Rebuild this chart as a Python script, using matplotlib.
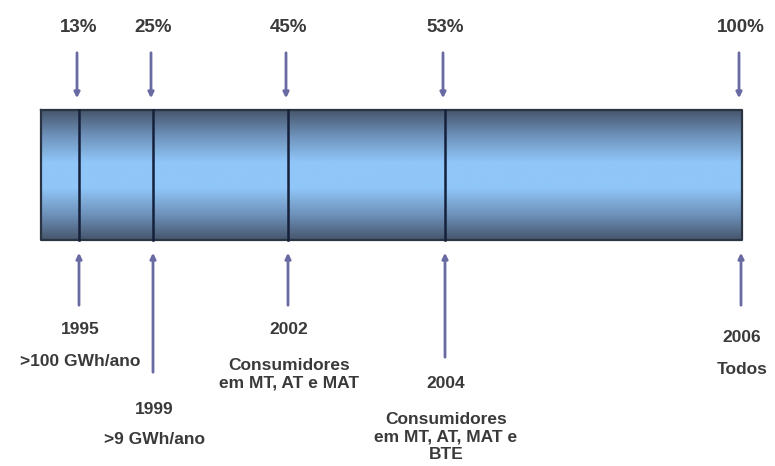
import numpy as np
import matplotlib.pyplot as plt
from matplotlib.colors import LinearSegmentedColormap

# market opening timeline
years = ['1995', '1999', '2002', '2004', '2006']
shares = ['13%', '25%', '45%', '53%', '100%']
eligible = ['>100 GWh/ano', '>9 GWh/ano', 'Consumidores\nem MT, AT e MAT',
            'Consumidores\nem MT, AT, MAT e\nBTE', 'Todos']

# layout (pixel coordinates of the slide)
xpos = [79, 153, 288, 445, 741]
bottom_len = [308, 375, 308, 360, 308]
year_y = [330, 410, 330, 383, 337]
label_y = [362, 440, 374, 437, 369]
text_col = '#3a3a3a'
arrow_col = '#6a6aa2'

plt.rcParams['font.family'] = ['Liberation Sans', 'DejaVu Sans']

fig = plt.figure(figsize=(7.75, 4.66), dpi=100)
ax = fig.add_axes([0, 0, 1, 1])
ax.set_xlim(0, 775)
ax.set_ylim(466, 0)
ax.axis('off')

# gradient bar
x0, x1, y0, y1 = 41, 742, 110, 240
cmap = LinearSegmentedColormap.from_list('bar', ['#46566c', '#6f93bc', '#90c6f8', '#90c6f8', '#6f93bc', '#46566c'])
grad = np.linspace(0, 1, 256).reshape(-1, 1)
ax.imshow(grad, cmap=cmap, extent=[x0, x1, y1, y0], aspect='auto', zorder=1)
ax.plot([x0, x1, x1, x0, x0], [y0, y0, y1, y1, y0], color='#2a3442', lw=1.6, zorder=2)
for x in xpos[:-1]:
    ax.plot([x, x], [y0, y1], color='#15203a', lw=1.8, zorder=2)

for i in range(len(years)):
    x = xpos[i]
    ax.text(x, 28, shares[i], ha='center', va='center', fontsize=13.5,
            fontweight='bold', color=text_col)
    ax.annotate('', xy=(x - 2, 101), xytext=(x - 2, 50),
                arrowprops=dict(arrowstyle='-|>', color=arrow_col, lw=2,
                                mutation_scale=8))
    ax.annotate('', xy=(x, 250), xytext=(x, bottom_len[i]),
                arrowprops=dict(arrowstyle='-|>', color=arrow_col, lw=2,
                                mutation_scale=8))
    ax.text(x + 1, year_y[i], years[i], ha='center', va='center', fontsize=12.5,
            fontweight='bold', color=text_col)
    ax.text(x + 1, label_y[i], eligible[i], ha='center', va='center', fontsize=12.5,
            fontweight='bold', color=text_col, linespacing=1.2)

fig.savefig('out.png', dpi=100)
